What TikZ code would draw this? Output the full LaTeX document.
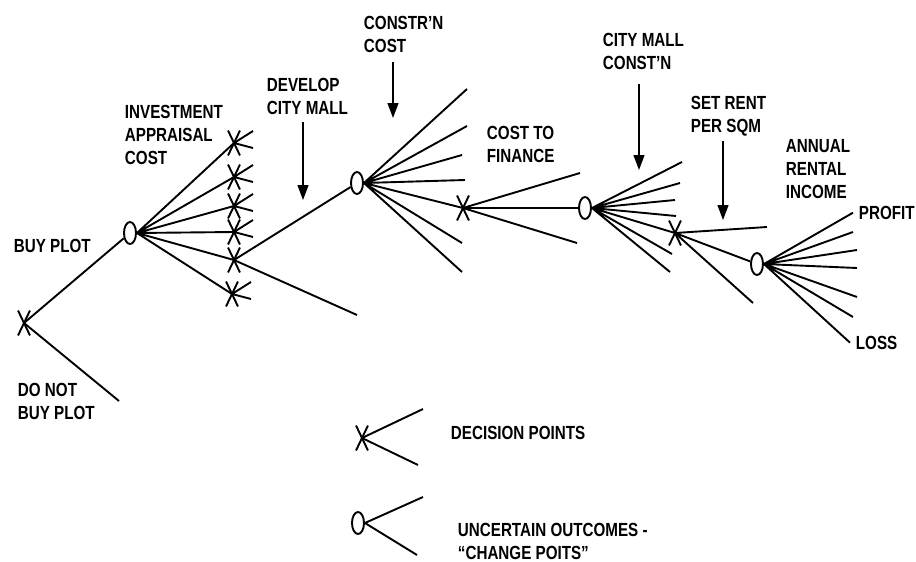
\documentclass[tikz,border=0pt]{standalone}
\usepackage{fontspec}
\usepackage{tikz}
\usetikzlibrary{shapes.geometric,shapes.misc,arrows.meta}
\newfontfamily\lblfont{Liberation Sans}[FakeStretch=0.8]

\begin{document}
\begin{tikzpicture}[
    x=1pt,y=-1pt,
    >={Triangle[length=15pt,width=11pt]},
    line width=1.9pt,
    chance/.style={ellipse,draw,minimum width=12pt,minimum height=22pt,inner sep=0pt},
    decision/.style={cross out,draw,minimum width=10pt,minimum height=23pt,inner sep=0pt},
    lbl/.style={align=left,inner sep=0pt,anchor=north west,
        font=\lblfont\bfseries\fontsize{19}{23}\selectfont},
    pointer/.style={->,line width=1.3pt}
]
\useasboundingbox (0,0) rectangle (916,562);

\node[decision] (D0) at (24,323) {};
\node[chance] (C1) at (130,233) {};
\node[decision] (X1) at (234,143) {};
\node[decision] (X2) at (234,177) {};
\node[decision] (X3) at (234,206) {};
\node[decision] (X4) at (234,232) {};
\node[decision] (X5) at (234,260) {};
\node[decision] (X6) at (232,294) {};
\node[chance] (C2) at (357,183) {};
\node[decision] (X7) at (463,208) {};
\node[chance] (C3) at (585,208) {};
\node[decision] (X8) at (675,233) {};
\node[chance] (C4) at (757,264) {};

\node[decision] (LD) at (362,438) {};
\node[chance] (LC) at (358,523) {};

\node[lbl] (invest) at (124,104) {INVESTMENT\\APPRAISAL\\COST};
\node[lbl] (buy) at (13,238) {BUY PLOT};
\node[lbl] (nobuylbl) at (17,382) {DO NOT\\BUY PLOT};
\node[lbl] (develop) at (266,77) {DEVELOP\\CITY MALL};
\node[lbl] (constr) at (363,15) {CONSTR’N\\COST};
\node[lbl] (finance) at (486,125) {COST TO\\FINANCE};
\node[lbl] (mall) at (602,32) {CITY MALL\\CONST’N};
\node[lbl] (rent) at (690,95) {SET RENT\\PER SQM};
\node[lbl] (income) at (785,138) {ANNUAL\\RENTAL\\INCOME};
\node[lbl] (profit) at (858,205) {PROFIT};
\node[lbl] (loss) at (855,335) {LOSS};
\node[lbl] (declbl) at (450,425) {DECISION POINTS};
\node[lbl] (unclbl) at (457,522) {UNCERTAIN OUTCOMES -\\“CHANGE POITS”};

\path (119,401) coordinate (nobuy)
      (253,131) coordinate (x1a) (253,148) coordinate (x1b)
      (253,165) coordinate (x2a) (253,182) coordinate (x2b)
      (253,194) coordinate (x3a) (253,211) coordinate (x3b)
      (253,220) coordinate (x4a) (253,237) coordinate (x4b)
      (251,282) coordinate (x6a) (251,299) coordinate (x6b)
      (357,315) coordinate (x5b);
\path (467,89) coordinate (c2a) (467,126) coordinate (c2b)
      (462,155) coordinate (c2c) (465,180) coordinate (c2d)
      (462,243) coordinate (c2e) (462,272) coordinate (c2f)
      (580,173) coordinate (x7a) (577,243) coordinate (x7b);
\path (682,162) coordinate (c3a) (680,183) coordinate (c3b)
      (675,200) coordinate (c3c) (676,216) coordinate (c3d)
      (672,254) coordinate (c3e) (670,272) coordinate (c3f)
      (767,227) coordinate (x8a) (753,303) coordinate (x8b);
\path (853,232) coordinate (c4b) (857,250) coordinate (c4c)
      (857,268) coordinate (c4d) (857,297) coordinate (c4e)
      (853,317) coordinate (c4f);
\path (423,409) coordinate (lda) (418,465) coordinate (ldb)
      (423,497) coordinate (lca) (417,555) coordinate (lcb);
\path (303,200) coordinate (tip1) (393,118) coordinate (tip2)
      (639,170) coordinate (tip3) (723,220) coordinate (tip4);

\draw (D0.center) -- (C1)
      (D0.center) -- (nobuy);

\draw (C1.east) -- (X1.center) (C1.east) -- (X2.center)
      (C1.east) -- (X3.center) (C1.east) -- (X4.center)
      (C1.east) -- (X5.center) (C1.east) -- (X6.center);

\draw (X1.center) -- (x1a) (X1.center) -- (x1b)
      (X2.center) -- (x2a) (X2.center) -- (x2b)
      (X3.center) -- (x3a) (X3.center) -- (x3b)
      (X4.center) -- (x4a) (X4.center) -- (x4b)
      (X6.center) -- (x6a) (X6.center) -- (x6b);

\draw (X5.center) -- (C2)
      (X5.center) -- (x5b);

\draw (C2.east) -- (c2a) (C2.east) -- (c2b) (C2.east) -- (c2c)
      (C2.east) -- (c2d) (C2.east) -- (X7.center)
      (C2.east) -- (c2e) (C2.east) -- (c2f);

\draw (X7.center) -- (x7a)
      (X7.center) -- (C3)
      (X7.center) -- (x7b);

\draw (C3.east) -- (c3a) (C3.east) -- (c3b) (C3.east) -- (c3c)
      (C3.east) -- (c3d) (C3.east) -- (X8.center)
      (C3.east) -- (c3e) (C3.east) -- (c3f);

\draw (X8.center) -- (x8a)
      (X8.center) -- (C4)
      (X8.center) -- (x8b);

\draw (C4.east) -- ([xshift=-5pt]profit.west) (C4.east) -- (c4b)
      (C4.east) -- (c4c) (C4.east) -- (c4d) (C4.east) -- (c4e)
      (C4.east) -- (c4f) (C4.east) -- ([xshift=-5pt]loss.west);

\draw (LD.center) -- (lda)
      (LD.center) -- (ldb);
\draw (LC.east) -- (lca)
      (LC.east) -- (lcb);

\draw[pointer,shorten <=7pt]
(develop.south -| tip1) -- (tip1);
\draw[pointer,shorten <=9pt]
(constr.south -| tip2) -- (tip2);
\draw[pointer,shorten <=14pt]
(mall.south -| tip3) -- (tip3);
\draw[pointer,shorten <=4pt]
(rent.south -| tip4) -- (tip4);

\end{tikzpicture}
\end{document}
